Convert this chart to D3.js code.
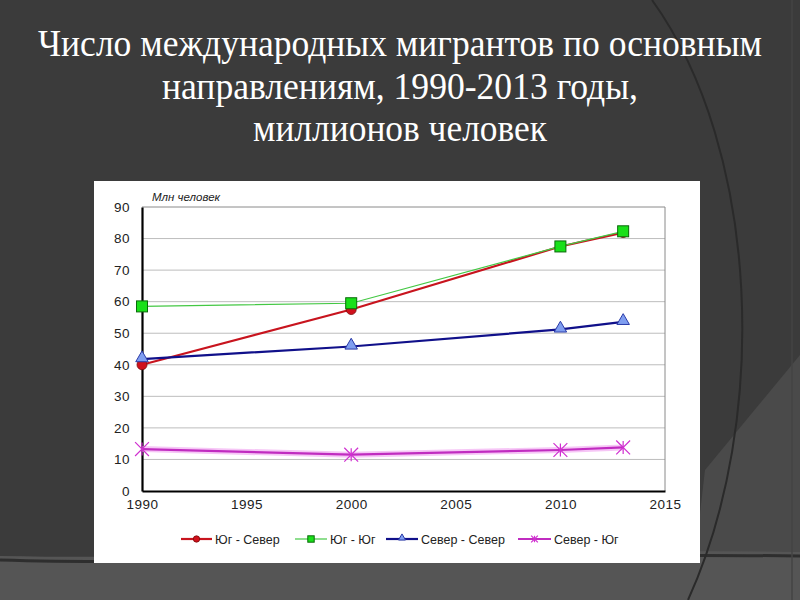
<!DOCTYPE html>
<meta charset="utf-8">
<script src="https://cdn.jsdelivr.net/npm/d3@7"></script>
<style>
  body { margin: 0; background: #3b3b3b; }
</style>
<div id="my_dataviz"></div>
<script>

// data
var years = [1990, 2000, 2010, 2013];
var southNorth = [40, 57.5, 77.5, 81.9];
var southSouth = [58.5, 59.5, 77.5, 82.3];
var northNorth = [41.8, 45.8, 51.2, 53.6];
var northSouth = [13.3, 11.5, 13, 13.8];
var seriesNames = ["Юг - Север", "Юг - Юг", "Север - Север", "Север - Юг"];
var yTicks = [0, 10, 20, 30, 40, 50, 60, 70, 80, 90];
var xTicks = [1990, 1995, 2000, 2005, 2010, 2015];
var titleLines = [
  "Число международных мигрантов по основным",
  "направлениям, 1990-2013 годы,",
  "миллионов человек"
];

var series = [
  {name: seriesNames[0], values: southNorth, color: "#c8141e", width: 2.2, marker: "circle", fill: "#d0101c", stroke: "#7a0a0a"},
  {name: seriesNames[1], values: southSouth, color: "#44c844", width: 1.2, marker: "square", fill: "#19e019", stroke: "#0a6a0a"},
  {name: seriesNames[2], values: northNorth, color: "#10108a", width: 2.2, marker: "triangle", fill: "#7f9ef0", stroke: "#2a3aa8"},
  {name: seriesNames[3], values: northSouth, color: "#c02cc0", width: 2.2, marker: "star", fill: "none", stroke: "#d030d0"}
];

var svg = d3.select("#my_dataviz")
  .append("svg")
    .attr("width", 800)
    .attr("height", 600);

// slide background
svg.append("rect").attr("width", 800).attr("height", 600).attr("fill", "#3b3b3b");
svg.append("path")
  .attr("d", "M800,355 L705,470 L690,600 L800,600 Z")
  .attr("fill", "#4a4a4a");
svg.append("path")
  .attr("d", "M0,556 C200,560 500,548 800,552 L800,600 L0,600 Z")
  .attr("fill", "#555555");
svg.append("path")
  .attr("d", "M0,560 C200,566 500,552 800,556")
  .attr("fill", "none").attr("stroke", "#2e2e2e").attr("stroke-width", 3);
svg.append("path")
  .attr("d", "M652,0 C760,150 770,420 688,600")
  .attr("fill", "none").attr("stroke", "#2a2a2a").attr("stroke-width", 2);
svg.append("path")
  .attr("d", "M792,0 L792,600")
  .attr("fill", "none").attr("stroke", "#454545").attr("stroke-width", 1.5);

// title
var titleY = [56, 99, 141];
var titleW = [724, 476, 294];
svg.selectAll("titleLines")
  .data(titleLines)
  .enter()
  .append("text")
    .attr("x", 400)
    .attr("y", (d, i) => titleY[i])
    .attr("text-anchor", "middle")
    .attr("textLength", (d, i) => titleW[i])
    .attr("lengthAdjust", "spacingAndGlyphs")
    .attr("font-family", "'Liberation Serif', 'Times New Roman', serif")
    .attr("font-size", 37)
    .attr("fill", "#ffffff")
    .text(d => d);

// white chart panel
svg.append("rect")
  .attr("x", 94).attr("y", 181)
  .attr("width", 606).attr("height", 382)
  .attr("fill", "#ffffff");

var x = d3.scaleLinear().domain([1990, 2015]).range([142, 665]);
var y = d3.scaleLinear().domain([0, 90]).range([491, 207]);

// grid
svg.selectAll("gridLines")
  .data(yTicks.filter(d => d > 0 && d < 90))
  .enter()
  .append("line")
    .attr("x1", x(1990)).attr("x2", x(2015))
    .attr("y1", d => y(d)).attr("y2", d => y(d))
    .attr("stroke", "#bdbdbd").attr("stroke-width", 1);

// plot frame (top and right)
svg.append("path")
  .attr("d", "M" + x(1990) + "," + y(90) + "H" + x(2015) + "V" + y(0))
  .attr("fill", "none").attr("stroke", "#8a8a8a").attr("stroke-width", 1);

// axes
var yAxis = svg.append("g")
  .attr("transform", "translate(" + x(1990) + ",0)")
  .call(d3.axisLeft(y).tickValues(yTicks).tickSize(0).tickPadding(12));
var xAxis = svg.append("g")
  .attr("transform", "translate(0," + y(0) + ")")
  .call(d3.axisBottom(x).tickValues(xTicks).tickFormat(d3.format("d")).tickSize(0).tickPadding(8));
[yAxis, xAxis].forEach(function(g) {
  g.select(".domain").attr("stroke", "#000").attr("stroke-width", 2.2);
  g.selectAll("text")
    .attr("font-family", "'Liberation Sans', Arial, sans-serif")
    .attr("font-size", 13.5)
    .attr("letter-spacing", 0.5)
    .attr("fill", "#222");
});

svg.append("text")
  .attr("x", 152).attr("y", 201)
  .attr("font-family", "'Liberation Sans', Arial, sans-serif")
  .attr("font-style", "italic")
  .attr("font-size", 11.5)
  .attr("fill", "#222")
  .text("Млн человек");

var line = d3.line()
  .x((d, i) => x(years[i]))
  .y(d => y(d));

// glow under the magenta line
svg.append("path")
  .datum(northSouth)
  .attr("d", line)
  .attr("fill", "none")
  .attr("stroke", "#f0a0f0")
  .attr("stroke-width", 6)
  .attr("opacity", 0.6);

function drawMarker(g, type, s, cx, cy, size) {
  if (type === "circle") {
    g.append("circle").attr("cx", cx).attr("cy", cy).attr("r", size)
      .attr("fill", s.fill).attr("stroke", s.stroke).attr("stroke-width", 0.8);
  } else if (type === "square") {
    g.append("rect").attr("x", cx - size).attr("y", cy - size)
      .attr("width", size * 2).attr("height", size * 2)
      .attr("fill", s.fill).attr("stroke", s.stroke).attr("stroke-width", 1);
  } else if (type === "triangle") {
    g.append("path")
      .attr("d", d3.symbol().type(d3.symbolTriangle).size(size * size * 3.2)())
      .attr("transform", "translate(" + cx + "," + (cy - 1) + ")")
      .attr("fill", s.fill).attr("stroke", s.stroke).attr("stroke-width", 1);
  } else {
    g.append("path")
      .attr("d", d3.symbol().type(d3.symbolTimes).size(size * size * 3)())
      .attr("transform", "translate(" + cx + "," + cy + ")")
      .attr("fill", "none").attr("stroke", s.stroke).attr("stroke-width", 1.2);
    g.append("line")
      .attr("x1", cx).attr("x2", cx).attr("y1", cy - size).attr("y2", cy + size)
      .attr("stroke", s.stroke).attr("stroke-width", 1.2);
  }
}

// lines and markers
series.forEach(function(s) {
  svg.append("path")
    .datum(s.values)
    .attr("d", line)
    .attr("fill", "none")
    .attr("stroke", s.color)
    .attr("stroke-width", s.width);
});
series.forEach(function(s) {
  var g = svg.append("g");
  var sz = s.marker === "square" ? 5.5 : s.marker === "circle" ? 5 : s.marker === "triangle" ? 4.6 : 6.5;
  s.values.forEach(function(v, i) {
    drawMarker(g, s.marker, s, x(years[i]), y(v), sz);
  });
});

// legend
var legendX = [181, 295, 386, 518];
var legendLen = [31, 32, 32, 33];
var legendY = 539;
series.forEach(function(s, i) {
  var g = svg.append("g");
  g.append("line")
    .attr("x1", legendX[i]).attr("x2", legendX[i] + legendLen[i])
    .attr("y1", legendY).attr("y2", legendY)
    .attr("stroke", s.color).attr("stroke-width", s.width);
  drawMarker(g, s.marker, s, legendX[i] + legendLen[i] / 2, legendY, s.marker === "triangle" ? 2.6 : 3.2);
  g.append("text")
    .attr("x", legendX[i] + legendLen[i] + 3)
    .attr("y", legendY + 4.5)
    .attr("font-family", "'Liberation Sans', Arial, sans-serif")
    .attr("font-size", 12.5)
    .attr("fill", "#222")
    .text(s.name);
});

</script>
